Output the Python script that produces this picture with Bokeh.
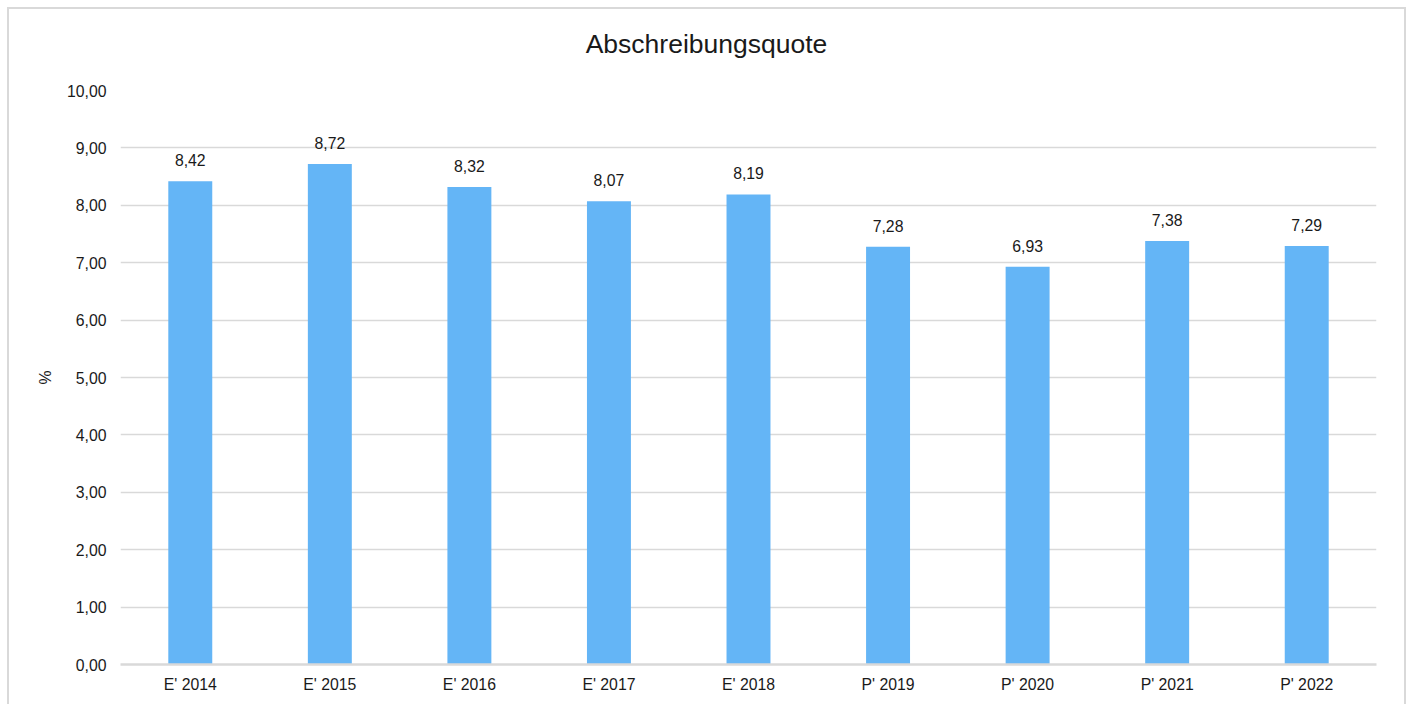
from bokeh.plotting import figure
from bokeh.models import Range1d, FixedTicker, ColumnDataSource, Div
from bokeh.layouts import column
from bokeh.core.properties import value
from bokeh.embed import file_html
from bokeh.resources import INLINE

# Abschreibungsquote je Jahr (E = Ist, P = Plan)
categories = ["E' 2014", "E' 2015", "E' 2016", "E' 2017", "E' 2018",
              "P' 2019", "P' 2020", "P' 2021", "P' 2022"]
quote = [8.42, 8.72, 8.32, 8.07, 8.19, 7.28, 6.93, 7.38, 7.29]
y_ticks = [0, 1, 2, 3, 4, 5, 6, 7, 8, 9, 10]
y_tick_labels = ["0,00", "1,00", "2,00", "3,00", "4,00", "5,00",
                 "6,00", "7,00", "8,00", "9,00", "10,00"]
title_text = "Abschreibungsquote"
y_label = "%"

FONT = "Liberation Sans"
TEXT = "#1a1a1a"
GRID = "#d9d9d9"
BAR = "#64B5F6"
SIZE = "15.8px"
W = 1395
TITLE_H = 66


def de(v):
    return f"{v:.2f}".replace(".", ",")


centers = [i + 0.5 for i in range(len(categories))]
src = ColumnDataSource(dict(x=centers, top=quote, label=[de(v) for v in quote]))

# chart heading as a separate block above the plot
head = Div(text=title_text, width=W, height=TITLE_H, margin=0,
           styles={"font-family": FONT, "font-size": "26.5px",
                   "line-height": "30px", "color": TEXT,
                   "text-align": "center", "padding-top": "20px",
                   "box-sizing": "border-box", "background": "white"})

p = figure(width=W, height=695 - TITLE_H, output_backend="svg",
           toolbar_location=None,
           x_range=Range1d(0, len(categories)), y_range=Range1d(0, 10),
           min_border_left=111, min_border_right=28,
           min_border_top=81 - TITLE_H, min_border_bottom=40)
p.outline_line_color = None
p.background_fill_color = "white"
p.border_fill_color = "white"

p.vbar(x="x", top="top", width=0.315, bottom=0, source=src,
       fill_color=BAR, line_color=None)

p.text(x="x", y="top", text="label", source=src, y_offset=-21,
       text_align="center", text_baseline="alphabetic",
       text_font=value(FONT), text_font_size=SIZE, text_color=TEXT)

# axes
p.xaxis.ticker = FixedTicker(ticks=centers)
p.xaxis.major_label_overrides = {c: lab for c, lab in zip(centers, categories)}
p.yaxis.ticker = FixedTicker(ticks=y_ticks)
p.yaxis.major_label_overrides = {t: lab for t, lab in zip(y_ticks, y_tick_labels)}

for ax in (p.xaxis, p.yaxis):
    ax.major_tick_line_color = None
    ax.minor_tick_line_color = None
    ax.major_label_text_font = FONT
    ax.major_label_text_font_size = SIZE
    ax.major_label_text_color = TEXT

p.yaxis.axis_line_color = None
p.yaxis.major_label_standoff = 8
p.yaxis.axis_label = y_label
p.yaxis.axis_label_text_font = FONT
p.yaxis.axis_label_text_font_size = SIZE
p.yaxis.axis_label_text_font_style = "normal"
p.yaxis.axis_label_text_color = TEXT
p.yaxis.axis_label_standoff = 10

p.xaxis.axis_line_color = GRID
p.xaxis.axis_line_width = 2.5
p.xaxis.major_label_standoff = 5

p.xgrid.grid_line_color = None
p.ygrid.grid_line_color = GRID
p.ygrid.grid_line_width = 1.5

page = column(head, p, spacing=0, margin=(7, 0, 0, 7),
              styles={"border-top": "2px solid #d9d9d9",
                      "border-left": "2px solid #d9d9d9",
                      "border-right": "2px solid #d9d9d9",
                      "background": "white"})

open("out.html", "w").write(file_html(page, INLINE))
